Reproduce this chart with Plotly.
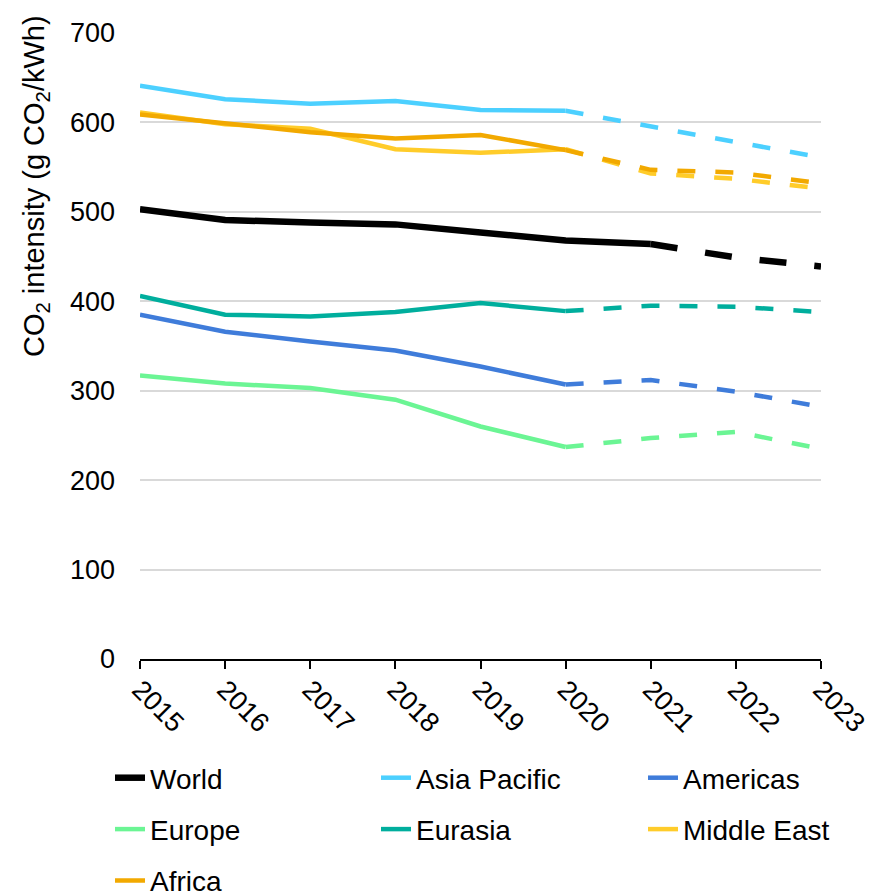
import plotly.graph_objects as go

years = [2015, 2016, 2017, 2018, 2019, 2020, 2021, 2022, 2023]

regions = ["World", "Asia Pacific", "Americas", "Europe", "Eurasia", "Middle East", "Africa"]

world = [503, 491, 488, 486, 477, 468, 464, 449, 439]
asia_pacific = [641, 626, 621, 624, 614, 613, 595, 578, 561]
americas = [385, 366, 355, 345, 327, 307, 312, 299, 282]
europe = [317, 308, 303, 290, 260, 237, 247, 254, 235]
eurasia = [406, 385, 383, 388, 398, 389, 395, 394, 388]
middle_east = [611, 598, 593, 570, 566, 570, 543, 537, 526]
africa = [609, 599, 589, 582, 586, 569, 547, 544, 532]

values = [world, asia_pacific, americas, europe, eurasia, middle_east, africa]
colors = ["#000000", "#4CD0FF", "#3F7CDA", "#6BF594", "#00AE9D", "#FFCC2A", "#F2A900"]
widths = [6.5, 4.5, 4.5, 4.5, 4.5, 4.5, 4.5]
dash_start = ["2021", "2020", "2020", "2020", "2020", "2020", "2020"]
dash_pattern = ["27px,28px", "18px,20px", "18px,20px", "18px,20px", "18px,20px", "18px,20px", "18px,20px"]
# legend column for each region (3 columns, read row by row)
legend_of = ["legend", "legend2", "legend3", "legend", "legend2", "legend3", "legend"]

y_ticks = [0, 100, 200, 300, 400, 500, 600, 700]

FONT = "Liberation Sans, Arial, sans-serif"

fig = go.Figure()
for name, vals, col, w, ds, dp, lg in zip(regions, values, colors, widths, dash_start, dash_pattern, legend_of):
    k = years.index(int(ds))
    fig.add_trace(go.Scatter(
        x=years[:k + 1], y=vals[:k + 1], mode="lines", name=name,
        line=dict(color=col, width=w), legend=lg, legendgroup=name,
    ))
    fig.add_trace(go.Scatter(
        x=years[k:], y=vals[k:], mode="lines", name=name,
        line=dict(color=col, width=w, dash=dp), legend=lg, legendgroup=name,
        showlegend=False,
    ))

LEG_TOP = 753
leg_common = dict(
    orientation="v", xref="container", yref="container",
    xanchor="left", yanchor="top", traceorder="grouped", tracegroupgap=12,
    font=dict(family=FONT, size=28, color="#000000"),
    bgcolor="rgba(0,0,0,0)", borderwidth=0,
)

fig.update_layout(
    width=874, height=892,
    margin=dict(l=140, r=53, t=33, b=233, autoexpand=False),
    paper_bgcolor="white", plot_bgcolor="white",
    font=dict(family=FONT, size=27, color="#000000"),
    showlegend=True,
    legend=dict(leg_common, x=110 / 874, y=1 - LEG_TOP / 892),
    legend2=dict(leg_common, x=376 / 874, y=1 - LEG_TOP / 892),
    legend3=dict(leg_common, x=643 / 874, y=1 - LEG_TOP / 892),
    xaxis=dict(
        range=[2015, 2023], tickmode="array", tickvals=years,
        ticktext=[str(y) for y in years], tickangle=45,
        showgrid=False, zeroline=False,
        showline=True, linecolor="#000000", linewidth=2,
        ticks="outside", ticklen=8, tickwidth=2, tickcolor="#000000",
        ticklabelstandoff=-6,
        tickfont=dict(family=FONT, size=27, color="#000000"),
    ),
    yaxis=dict(
        range=[0, 700], tickmode="array", tickvals=y_ticks,
        showgrid=True, gridcolor="#D9D9D9", gridwidth=2,
        zeroline=False, showline=False,
        ticks="", ticklabelstandoff=24,
        tickfont=dict(family=FONT, size=27, color="#000000"),
    ),
    annotations=[dict(
        text="CO<sub>2</sub> intensity (g CO<sub>2</sub>/kWh)",
        xref="paper", yref="paper", x=(36 - 140) / 681, y=(659 - 186) / 626,
        xanchor="center", yanchor="middle", textangle=-90, showarrow=False,
        font=dict(family=FONT, size=29, color="#000000"),
    )],
)

fig.write_html("out.html", config={"displayModeBar": False},
               post_script="document.body.style.margin='0px';")
